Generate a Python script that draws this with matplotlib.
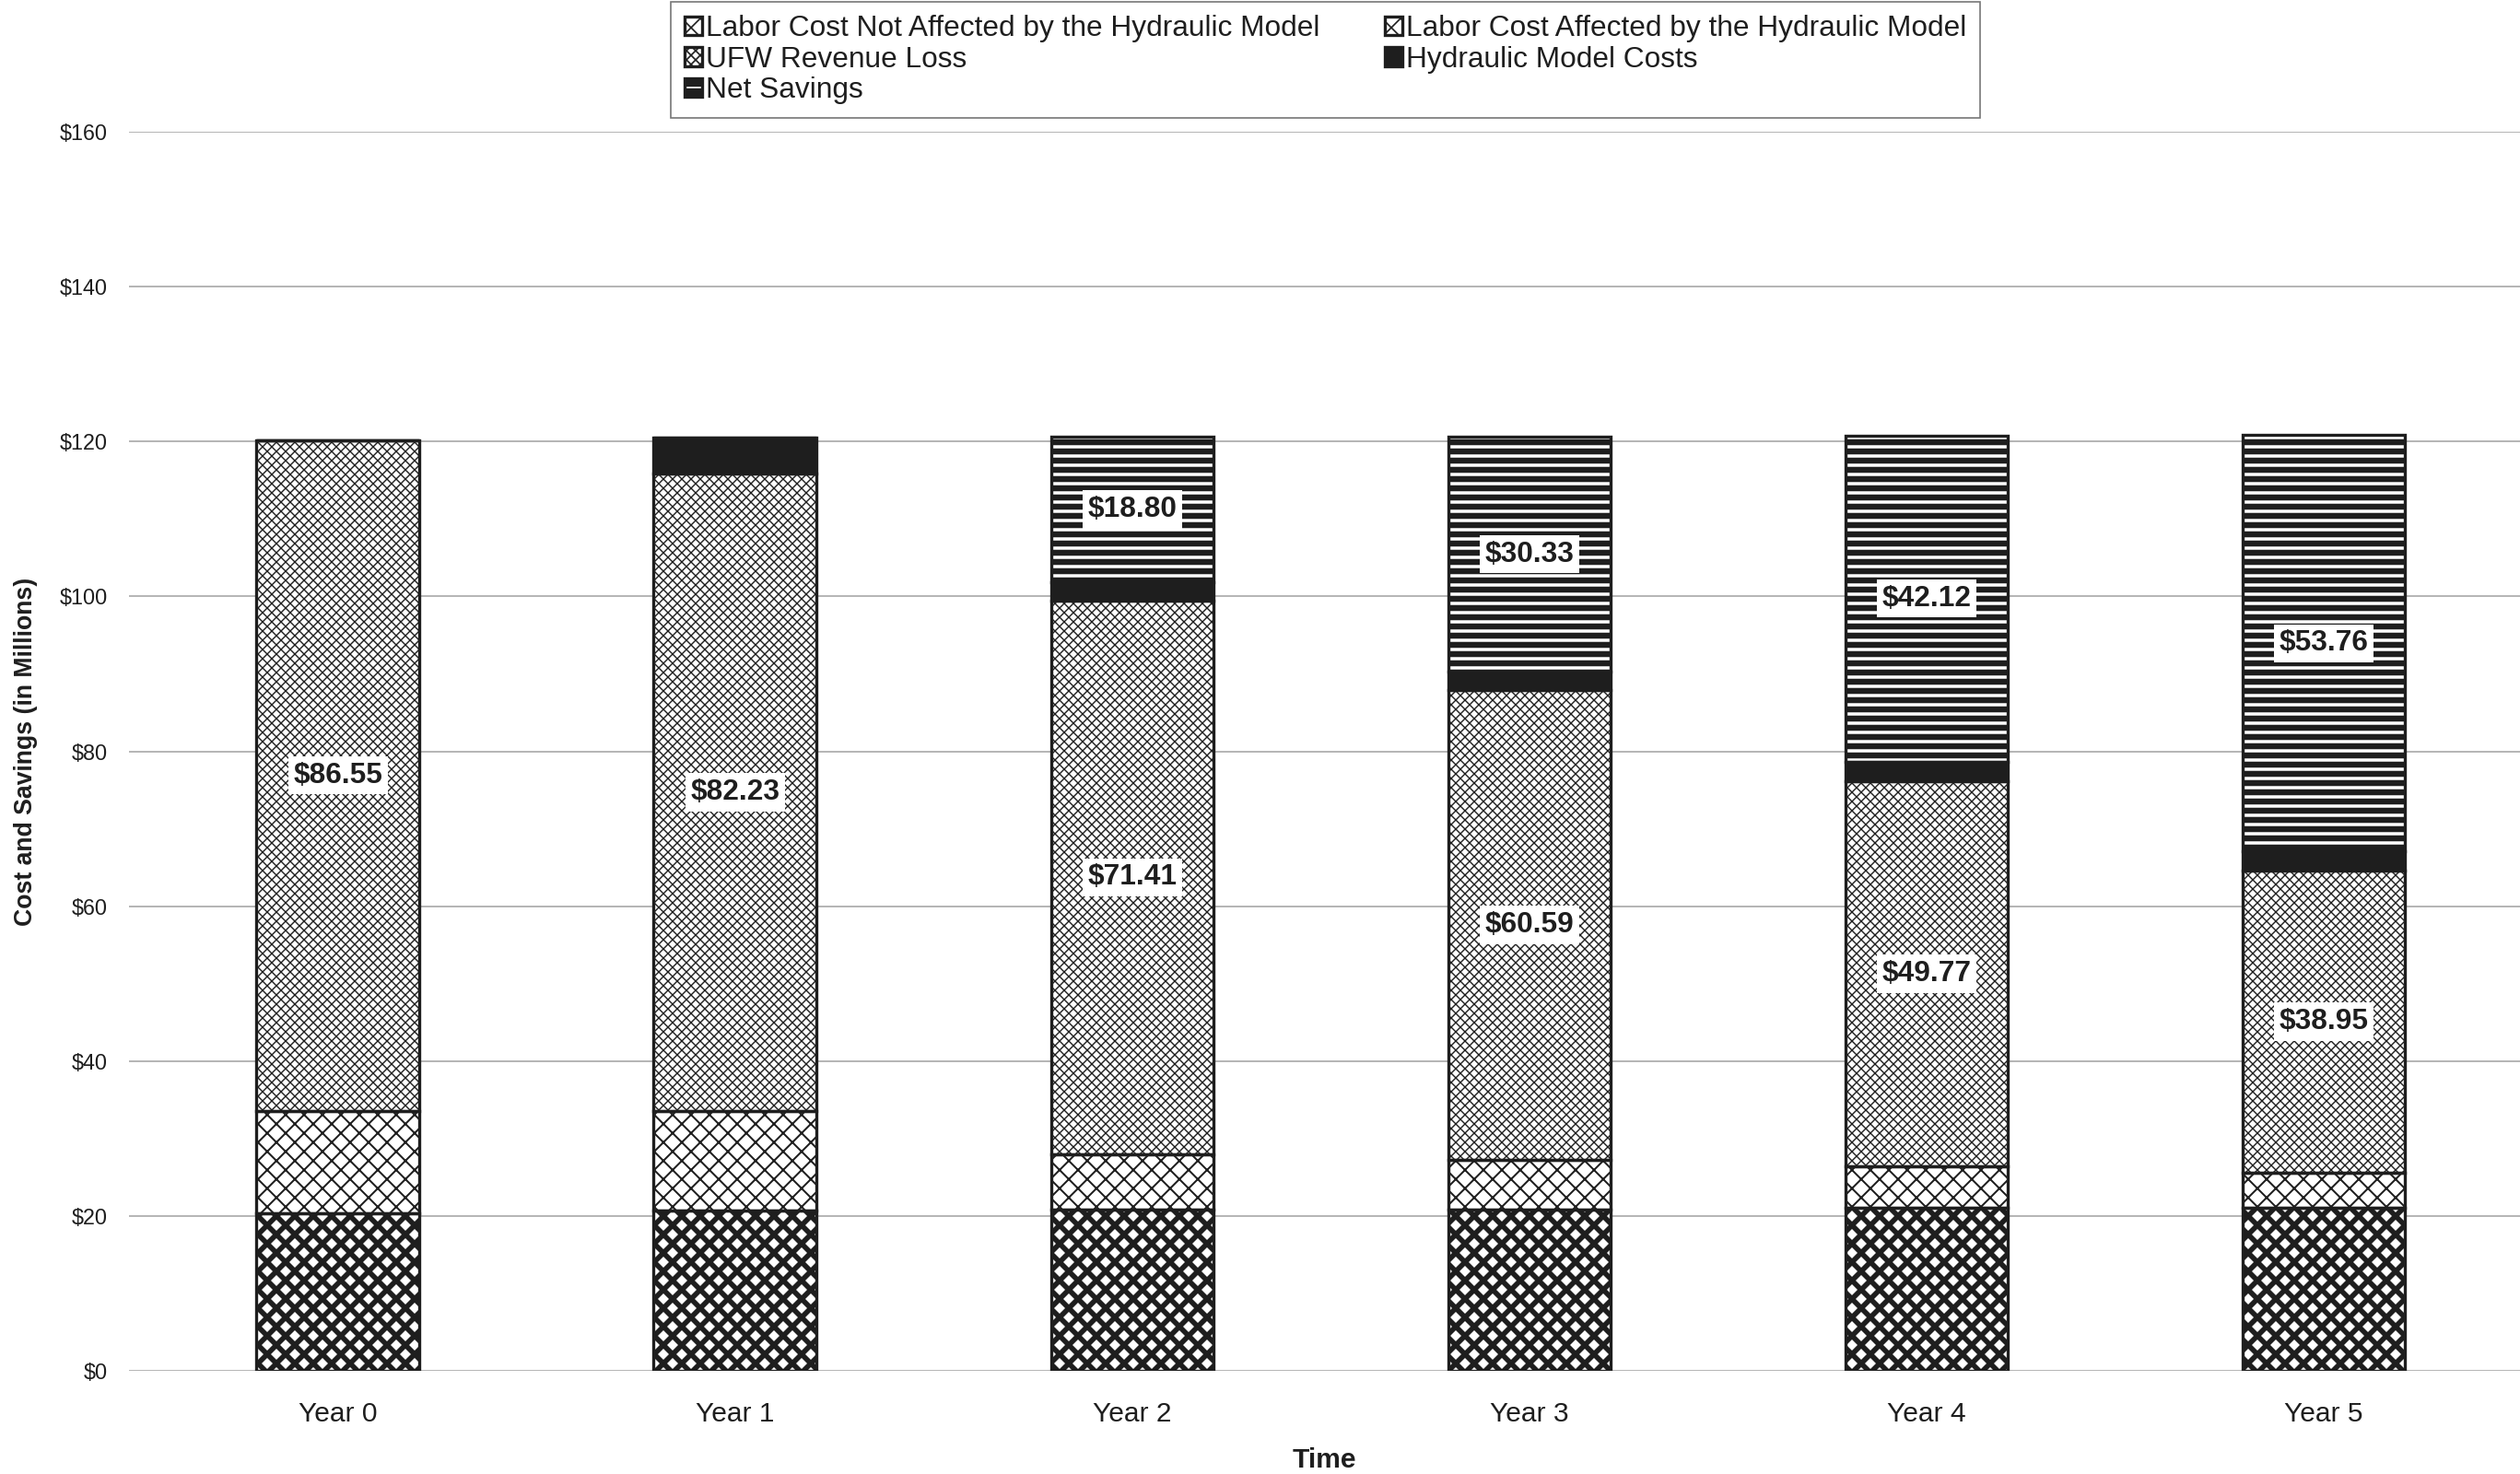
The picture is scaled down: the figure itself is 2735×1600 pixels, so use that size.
import numpy as np
import matplotlib
matplotlib.use("Agg")
import matplotlib.pyplot as plt

# datos (millones de dolares)
years = ["Year 0", "Year 1", "Year 2", "Year 3", "Year 4", "Year 5"]
labor_not_affected = [20.4, 20.7, 20.8, 20.8, 21.0, 21.0]
labor_affected = [13.2, 12.9, 7.2, 6.5, 5.4, 4.6]
ufw_loss = [86.55, 82.23, 71.41, 60.59, 49.77, 38.95]
hydraulic_costs = [0.0, 4.7, 2.4, 2.4, 2.5, 2.5]
net_savings = [0.0, 0.0, 18.80, 30.33, 42.12, 53.76]
y_ticks = [0, 20, 40, 60, 80, 100, 120, 140, 160]

plt.rcParams['font.family'] = ['Liberation Sans', 'DejaVu Sans']
DARK = "#1e1e1e"

fig = plt.figure(figsize=(2735 / 120, 1600 / 120), dpi=120)
ax = fig.add_axes([0.0512, 0.07, 0.9488, 0.8406])

x = np.arange(len(years))
w = 0.41

# nombre, valores, relleno, color del patron, patron, grosor del patron
segments = [
    ("Labor Cost Not Affected by the Hydraulic Model", labor_not_affected, "white", DARK, "xx", 3.4),
    ("Labor Cost Affected by the Hydraulic Model", labor_affected, "white", DARK, "xx", 1.2),
    ("UFW Revenue Loss", ufw_loss, "white", DARK, "xxxx", 0.85),
    ("Hydraulic Model Costs", hydraulic_costs, DARK, DARK, "", 1.0),
    ("Net Savings", net_savings, DARK, "white", "--", 2.1),
]

bottom = np.zeros(len(years))
handles = []
for name, vals, face, hcol, hatch, hlw in segments:
    vals = np.array(vals, dtype=float)
    with plt.rc_context({'hatch.linewidth': hlw}):
        b = ax.bar(x, vals, w, bottom=bottom, color=face, edgecolor=hcol,
                   hatch=hatch, linewidth=0, label=name, zorder=2)
    for p in b:
        if hasattr(p, 'set_hatch_linewidth'):
            p.set_hatch_linewidth(hlw)
    o = ax.bar(x, vals, w, bottom=bottom, fill=False, edgecolor=DARK,
               linewidth=2.0, zorder=3)
    handles.append((b, o))

    # etiquetas de UFW y ahorro neto
    if name in ("UFW Revenue Loss", "Net Savings"):
        for i in range(len(years)):
            if vals[i] > 0:
                ax.text(x[i], bottom[i] + vals[i] / 2, f"${vals[i]:.2f}",
                        ha='center', va='center', fontsize=19, fontweight='bold',
                        color=DARK, zorder=4,
                        bbox=dict(facecolor='white', edgecolor='none', pad=3.5))
    bottom = bottom + vals

ax.set_xlim(-0.526, 5.494)
ax.set_ylim(0, 160)
ax.set_yticks(y_ticks)
ax.set_yticklabels([f"${v}" for v in y_ticks])
ax.set_xticks(x)
ax.set_xticklabels(years)
ax.tick_params(axis='y', length=0, pad=14, labelsize=14, labelcolor=DARK)
ax.tick_params(axis='x', length=0, pad=20, labelsize=18, labelcolor=DARK)
ax.yaxis.grid(True, color='#a8a8a8', linewidth=1.0, zorder=0)
ax.set_axisbelow(True)
for s in ax.spines.values():
    s.set_visible(False)

ax.set_xlabel("Time", fontsize=18, fontweight='bold', labelpad=13, color=DARK)
ax.set_ylabel("Cost and Savings (in Millions)", fontsize=16, fontweight='bold',
              labelpad=14, color=DARK)

# orden por filas como en el original
order = [0, 2, 4, 1, 3]
leg = fig.legend([handles[i] for i in order], [segments[i][0] for i in order],
                 loc='upper center', bbox_to_anchor=(0.526, 0.999), ncol=2,
                 fontsize=19, frameon=True, fancybox=False, edgecolor='#555555',
                 handlelength=0.6, handleheight=0.6, handletextpad=0.15,
                 columnspacing=2.2, labelspacing=0.12, borderpad=0.45,
                 borderaxespad=0.0)
leg.get_frame().set_linewidth(1.0)
for t in leg.get_texts():
    t.set_color(DARK)

fig.savefig("out.png", dpi=120)
